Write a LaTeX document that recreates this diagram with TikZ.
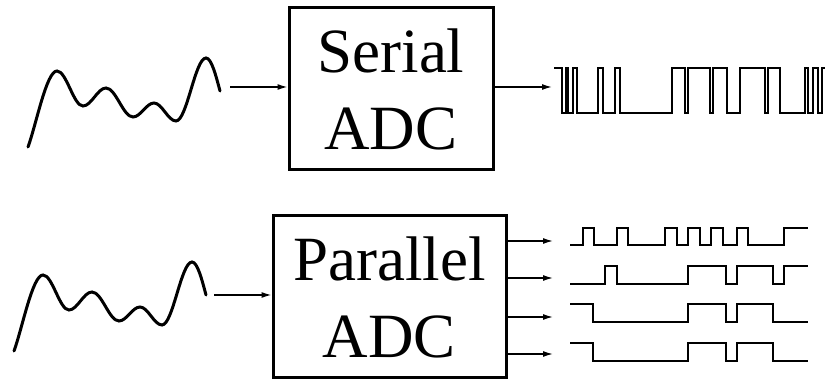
\documentclass[tikz,border=0pt]{standalone}
\usepackage{fontspec}
\setmainfont{Liberation Serif}
\usetikzlibrary{arrows.meta}
\begin{document}
\begin{tikzpicture}[x=1pt,y=1pt,
  adcbox/.style={draw,line width=3pt,inner sep=0pt,align=center,
    font=\fontsize{63}{78}\selectfont},
  arr/.style={line width=1.4pt,-{Latex[length=10pt,width=6pt]}},
  wave/.style={line width=3pt,line cap=round},
  digi/.style={line width=2.8pt,line join=miter,line cap=rect}]
\useasboundingbox (0,0) rectangle (825,-379);

% boxes
\node[adcbox,minimum width=204pt,minimum height=162pt] (serial) at (391,-89) {Serial\\[-1pt]ADC};
\node[adcbox,minimum width=233pt,minimum height=162pt] (par) at (389.5,-297) {Parallel\\[-1pt]ADC};

% analog waves
\def\analogwave{%
  (28,-147) .. controls (36.5,-123.5) and (46.5,-71) .. (57,-71)
  .. controls (66.5,-71) and (73.5,-106) .. (83,-106)
  .. controls (91.4,-106) and (97.6,-88) .. (106,-88)
  .. controls (115.8,-88) and (123.2,-117) .. (133,-117)
  .. controls (140.6,-117) and (146.4,-103) .. (154,-103)
  .. controls (162,-103) and (168,-121) .. (176,-121)
  .. controls (186.9,-121) and (195.1,-58) .. (206,-58)
  .. controls (211.5,-58) and (216,-76) .. (220,-91)}
\draw[wave] \analogwave;
\begin{scope}[shift={(-14,-204)}]
\draw[wave] \analogwave;
\end{scope}

% input arrows
\coordinate (in1) at (230,-87);
\coordinate (in2) at (214,-295);
\draw[arr] (in1) -- (in1 -| serial.west);
\draw[arr] (in2) -- (in2 -| par.west);

% output arrows
\coordinate (s1) at (552,-87);
\draw[arr] (serial.east |- s1) -- (s1);
\coordinate (p1) at (553,-241);
\coordinate (p2) at (553,-278);
\coordinate (p3) at (553,-317);
\coordinate (p4) at (553,-354);
\draw[arr] (par.east |- p1) -- (p1);
\draw[arr] (par.east |- p2) -- (p2);
\draw[arr] (par.east |- p3) -- (p3);
\draw[arr] (par.east |- p4) -- (p4);

% serial bit stream
\draw[digi] (555,-68) -| (562,-113) -| (566,-68) -| (568,-113) -| (573,-68) -| (577,-113)
  -| (598,-68) -| (603,-113) -| (615,-68) -| (620,-113) -| (672,-68) -| (685,-113)
  -| (688,-68) -| (710,-113) -| (713,-68) -| (727,-113) -| (740,-68) -| (765,-113)
  -| (768,-68) -| (780,-113) -| (805,-68) -| (808,-113) -| (813,-68) -| (818,-113)
  -| (822,-68) -- (830,-68);

% parallel bit streams
\draw[digi] (571,-245) -| (583,-228) -| (594,-245) -| (617,-228) -| (628,-245) -| (665,-228)
  -| (677,-245) -| (688,-228) -| (700,-245) -| (711,-228) -| (723,-245) -| (737,-228)
  -| (748,-245) -| (784,-228) -- (807,-228);
\draw[digi] (571,-284) -| (605,-266) -| (617,-284) -| (688,-266) -| (726,-284) -| (737,-266)
  -| (773,-284) -| (784,-266) -- (807,-266);
\draw[digi] (571,-304) -| (593,-322) -| (688,-304) -| (726,-322) -| (737,-304) -| (773,-322)
  -- (807,-322);
\draw[digi] (571,-343) -| (593,-361) -| (688,-343) -| (726,-361) -| (737,-343) -| (773,-361)
  -- (807,-361);
\end{tikzpicture}
\end{document}
